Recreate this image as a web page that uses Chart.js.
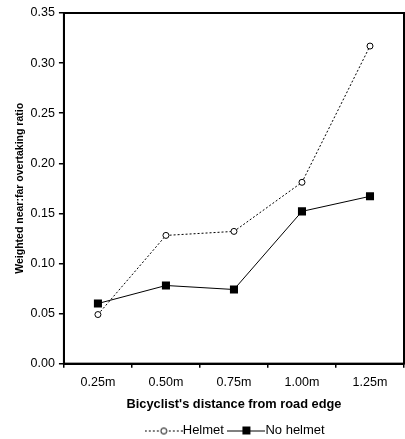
<!DOCTYPE html>
<html>
<head>
<meta charset="utf-8">
<script src="https://cdn.jsdelivr.net/npm/chart.js@4"></script>
<style>
  html, body { margin: 0; padding: 0; background: #fff; }
  #wrap { width: 405px; height: 439px; }
</style>
</head>
<body>
<div id="wrap"><canvas id="chart"></canvas></div>
<script>
// data
const distances = ['0.25m', '0.50m', '0.75m', '1.00m', '1.25m'];
const helmet = [0.049, 0.128, 0.132, 0.181, 0.317];
const noHelmet = [0.060, 0.078, 0.074, 0.152, 0.167];
const yTicks = [0, 0.05, 0.10, 0.15, 0.20, 0.25, 0.30, 0.35];

const font = 'Liberation Sans, Arial, sans-serif';

// small legend swatch: line with the marker in the middle
function swatch(dashed, square) {
  const c = document.createElement('canvas');
  c.width = 38; c.height = 10;
  const g = c.getContext('2d');
  g.strokeStyle = '#000';
  g.lineWidth = 1;
  if (dashed) g.setLineDash([2, 2]);
  g.beginPath(); g.moveTo(0, 5.5); g.lineTo(38, 5.5); g.stroke();
  g.setLineDash([]);
  if (square) {
    g.fillStyle = '#000';
    g.fillRect(15, 1, 8, 8);
  } else {
    g.fillStyle = '#fff';
    g.beginPath(); g.arc(19, 5.5, 3, 0, Math.PI * 2); g.fill(); g.stroke();
  }
  return c;
}
const swatches = [swatch(true, false), swatch(false, true)];

// full box around the plot area, legend centred under the plot
const frame = {
  id: 'frame',
  afterLayout(chart) {
    const l = chart.legend, a = chart.chartArea;
    if (l) { l.left = a.left + 4; l.right = a.right + 4; }
  },
  afterDraw(chart) {
    const a = chart.chartArea, ctx = chart.ctx;
    ctx.save();
    ctx.strokeStyle = '#000';
    ctx.lineWidth = 2;
    ctx.strokeRect(a.left, a.top, a.right - a.left, a.bottom - a.top);
    ctx.restore();
  }
};

new Chart(document.getElementById('chart'), {
  type: 'line',
  data: {
    labels: distances,
    datasets: [{
      label: 'Helmet',
      data: helmet,
      borderColor: '#000',
      borderWidth: 1,
      borderDash: [2, 2],
      pointStyle: 'circle',
      pointRadius: 3,
      pointBackgroundColor: '#fff',
      pointBorderColor: '#000',
      pointBorderWidth: 1,
      tension: 0
    }, {
      label: 'No helmet',
      data: noHelmet,
      borderColor: '#000',
      borderWidth: 1,
      pointStyle: 'rect',
      pointRadius: 5.7,
      pointBackgroundColor: '#000',
      pointBorderColor: '#000',
      pointBorderWidth: 0,
      tension: 0
    }]
  },
  options: {
    responsive: true,
    maintainAspectRatio: false,
    animation: false,
    layout: { autoPadding: false, padding: { top: 13, right: 1, left: 14, bottom: -8 } },
    plugins: {
      tooltip: { enabled: false },
      legend: {
        position: 'bottom',
        labels: {
          color: '#000',
          font: { family: font, size: 13 },
          usePointStyle: true,
          pointStyleWidth: 25,
          padding: 10,
          generateLabels(chart) {
            const items = Chart.defaults.plugins.legend.labels.generateLabels(chart);
            items.forEach((it, i) => { it.pointStyle = swatches[i]; });
            return items;
          }
        }
      }
    },
    scales: {
      x: {
        offset: true,
        grid: { display: true, offset: true, drawOnChartArea: false, color: '#000', lineWidth: 1.5, tickLength: 4 },
        border: { display: true, color: '#000', width: 2 },
        ticks: { color: '#000', font: { family: font, size: 12.5 }, padding: 7, maxRotation: 0 },
        title: {
          display: true,
          text: "Bicyclist's distance from road edge",
          color: '#000',
          font: { family: font, size: 12.8, weight: 'bold' },
          padding: { top: 0, bottom: 2 }
        }
      },
      y: {
        min: 0,
        max: 0.35,
        afterBuildTicks(scale) { scale.ticks = yTicks.map(v => ({ value: v })); },
        grid: { display: true, drawOnChartArea: false, color: '#000', lineWidth: 1.5, tickLength: 5 },
        border: { display: true, color: '#000', width: 2 },
        ticks: {
          color: '#000',
          font: { family: font, size: 12.5 },
          padding: 4,
          callback: v => Number(v).toFixed(2)
        },
        title: {
          display: true,
          text: 'Weighted near:far overtaking ratio',
          color: '#000',
          font: { family: font, size: 10.5, weight: 'bold' },
          padding: { top: 0, bottom: 0 }
        }
      }
    }
  },
  plugins: [frame]
});
</script>
</body>
</html>
